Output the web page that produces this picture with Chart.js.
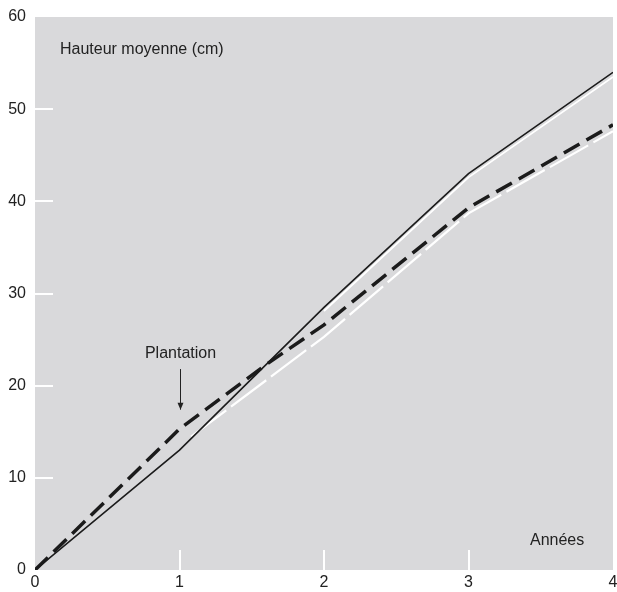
<!DOCTYPE html>
<html>
<head>
<meta charset="utf-8">
<script src="https://cdn.jsdelivr.net/npm/chart.js@4.4.1/dist/chart.umd.min.js"></script>
<style>
  html, body { margin: 0; padding: 0; background: #fff; }
  #wrap { width: 617px; height: 592px; }
</style>
</head>
<body>
<div id="wrap"><canvas id="hauteurChart" width="617" height="592"></canvas></div>
<script>
// Axes
const xTicks = [0, 1, 2, 3, 4];
const yTicks = [0, 10, 20, 30, 40, 50, 60];

// Courbe noire continue
const noirX = [0, 1, 2, 3, 4];
const noirY = [0, 13, 28.5, 43, 54];

// Courbe noire en tirets
const tiretX = [0, 1, 1.42, 1.6, 2, 3, 4];
const tiretY = [0, 15.3, 20.2, 22.3, 26.6, 39.3, 48.3];

// Courbe blanche continue
const blancX = [2, 3, 4];
const blancY = [28.1, 42.6, 53.5];

// Courbe blanche en tirets (après plantation)
const blancTiretX = [1.08, 2, 3, 4];
const blancTiretY = [14.46, 25.3, 38.7, 47.6];

const toPoints = (xs, ys) => xs.map((x, i) => ({ x: x, y: ys[i] }));

const FONT = 'Liberation Sans, Arial, Helvetica, sans-serif';
const GRIS = '#d9d9db';

// fond gris + graduations blanches intérieures + textes
const decor = {
    id: 'decor',
    beforeDatasetsDraw(chart) {
        const { ctx, chartArea: a, scales } = chart;
        ctx.save();
        ctx.strokeStyle = '#ffffff';
        ctx.lineWidth = 2;
        xTicks.slice(1, -1).forEach(v => {
            const px = Math.round(scales.x.getPixelForValue(v));
            ctx.beginPath();
            ctx.moveTo(px, a.bottom);
            ctx.lineTo(px, a.bottom - 20);
            ctx.stroke();
        });
        yTicks.slice(1, -1).forEach(v => {
            const py = Math.round(scales.y.getPixelForValue(v));
            ctx.beginPath();
            ctx.moveTo(a.left, py);
            ctx.lineTo(a.left + 18, py);
            ctx.stroke();
        });
        ctx.restore();
    },
    beforeDraw(chart) {
        const { ctx, chartArea: a } = chart;
        ctx.save();
        ctx.fillStyle = GRIS;
        ctx.fillRect(a.left, a.top, a.right - a.left, a.bottom - a.top);
        ctx.restore();
    },
    afterDraw(chart) {
        const { ctx, chartArea: a, scales } = chart;
        ctx.save();
        ctx.fillStyle = '#222';
        ctx.font = '16px ' + FONT;
        ctx.textBaseline = 'middle';
        ctx.textAlign = 'left';
        ctx.fillText('Hauteur moyenne (cm)', a.left + 25, a.top + 33);
        ctx.fillText('Années', a.right - 83, a.bottom - 29);

        // Plantation + flèche
        const px = scales.x.getPixelForValue(1) + 1;
        ctx.textAlign = 'center';
        ctx.fillText('Plantation', px, scales.y.getPixelForValue(23.5));
        const y0 = scales.y.getPixelForValue(21.8);
        const y1 = scales.y.getPixelForValue(17.4);
        ctx.strokeStyle = '#222';
        ctx.lineWidth = 1;
        ctx.beginPath();
        ctx.moveTo(px, y0);
        ctx.lineTo(px, y1);
        ctx.stroke();
        ctx.beginPath();
        ctx.moveTo(px - 3, y1 - 7);
        ctx.lineTo(px, y1);
        ctx.lineTo(px + 3, y1 - 7);
        ctx.closePath();
        ctx.fill();
        ctx.restore();
    }
};

new Chart(document.getElementById('hauteurChart').getContext('2d'), {
    type: 'line',
    data: {
        datasets: [
            {
                data: toPoints(noirX, noirY),
                borderColor: '#1b1b1b',
                borderWidth: 1.6,
                pointRadius: 0
            },
            {
                data: toPoints(tiretX, tiretY),
                borderColor: '#1b1b1b',
                borderWidth: 3.5,
                borderDash: [18, 8],
                pointRadius: 0
            },
            {
                data: toPoints(blancX, blancY),
                borderColor: '#ffffff',
                borderWidth: 1.8,
                pointRadius: 0
            },
            {
                data: toPoints(blancTiretX, blancTiretY),
                borderColor: '#ffffff',
                borderWidth: 2.2,
                borderDash: [44, 6],
                pointRadius: 0
            }
        ]
    },
    options: {
        responsive: false,
        animation: false,
        layout: { padding: { top: 17, right: 4, left: 0, bottom: 0 } },
        plugins: {
            legend: { display: false },
            tooltip: { enabled: false }
        },
        elements: { line: { tension: 0 } },
        scales: {
            x: {
                type: 'linear',
                min: 0,
                max: 4,
                afterBuildTicks: s => { s.ticks = xTicks.map(v => ({ value: v })); },
                afterFit: s => { s.height = 22; s.paddingLeft = 0; s.paddingRight = 0; },
                grid: { display: false, drawTicks: false },
                border: { display: false },
                ticks: {
                    color: '#222',
                    font: { family: FONT, size: 16 },
                    padding: 3,
                    maxRotation: 0
                }
            },
            y: {
                type: 'linear',
                min: 0,
                max: 60,
                afterBuildTicks: s => { s.ticks = yTicks.map(v => ({ value: v })); },
                afterFit: s => { s.width = 35; s.paddingTop = 0; s.paddingBottom = 0; },
                grid: { display: false, drawTicks: false },
                border: { display: false },
                ticks: {
                    color: '#222',
                    font: { family: FONT, size: 16 },
                    padding: 9
                }
            }
        }
    },
    plugins: [decor]
});
</script>
</body>
</html>
